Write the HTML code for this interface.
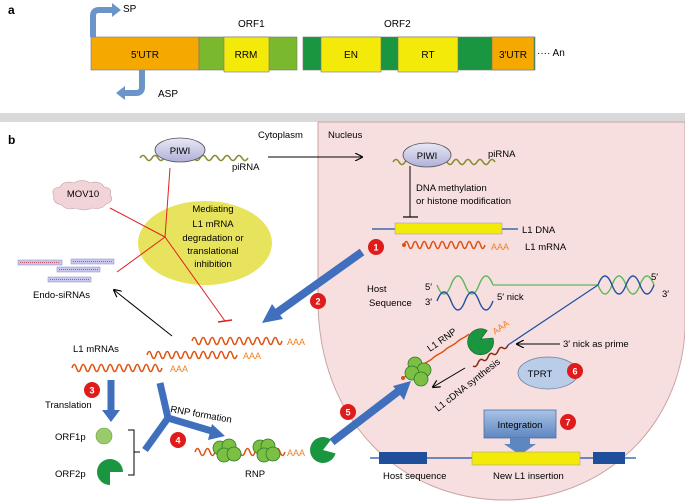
<!DOCTYPE html>
<html><head><meta charset="utf-8"><style>
html,body{margin:0;padding:0;background:#fff}
svg{display:block;font-family:"Liberation Sans",sans-serif}
</style></head><body>
<svg width="685" height="502" viewBox="0 0 685 502" xmlns="http://www.w3.org/2000/svg">
<defs>
<marker id="ah" markerWidth="8" markerHeight="8" refX="7" refY="4" orient="auto" markerUnits="userSpaceOnUse"><path d="M0,0 L8,4 L0,8" fill="none" stroke="#000" stroke-width="1.2"/></marker>
<linearGradient id="piwi" x1="0" y1="0" x2="0" y2="1"><stop offset="0" stop-color="#e8e8f6"/><stop offset="1" stop-color="#b0b0d8"/></linearGradient>
<linearGradient id="integ" x1="0" y1="0" x2="0" y2="1"><stop offset="0" stop-color="#a9c3e6"/><stop offset="1" stop-color="#5e86c0"/></linearGradient>
</defs>
<text x="8" y="14" font-size="12" font-weight="bold">a</text>
<text x="238" y="27" font-size="10">ORF1</text>
<text x="384" y="27" font-size="10">ORF2</text>
<rect x="91" y="37" width="108" height="33" fill="#f5a800" stroke="#777" stroke-width="0.6"/>
<rect x="199" y="37" width="98" height="33" fill="#7ab92d" stroke="#777" stroke-width="0.6"/>
<rect x="224" y="37" width="45" height="35" fill="#f4ea0a" stroke="#777" stroke-width="0.6"/>
<rect x="303" y="37" width="232" height="33" fill="#1a9540" stroke="#777" stroke-width="0.6"/>
<rect x="321" y="37" width="60" height="35" fill="#f4ea0a" stroke="#777" stroke-width="0.6"/>
<rect x="398" y="37" width="60" height="35" fill="#f4ea0a" stroke="#777" stroke-width="0.6"/>
<rect x="492" y="37" width="42" height="33" fill="#f5a800" stroke="#777" stroke-width="0.6"/>
<text x="145" y="58" font-size="10" text-anchor="middle">5′UTR</text>
<text x="246" y="58" font-size="10" text-anchor="middle">RRM</text>
<text x="351" y="58" font-size="10" text-anchor="middle">EN</text>
<text x="428" y="58" font-size="10" text-anchor="middle">RT</text>
<text x="513" y="58" font-size="10" text-anchor="middle">3′UTR</text>
<text x="537" y="56" font-size="10">···· An</text>
<path d="M93,37 L93,16 Q93,10 99,10 L113,10" fill="none" stroke="#6b94c8" stroke-width="6"/>
<path d="M112,3 L121,10 L112,17 Z" fill="#6b94c8"/>
<text x="123" y="12" font-size="10">SP</text>
<path d="M142,70 L142,87 Q142,93 136,93 L124,93" fill="none" stroke="#6b94c8" stroke-width="6"/>
<path d="M125,86 L116,93 L125,100 Z" fill="#6b94c8"/>
<text x="158" y="97" font-size="10">ASP</text>
<rect x="0" y="113" width="685" height="9" fill="#d9d9d9"/>
<path d="M318,122 L685,122 L685,330 C680,430 600,500 505,500 C400,500 318,420 318,300 Z" fill="#f8dfdf" stroke="#c9a5a5" stroke-width="1"/>
<text x="8" y="144" font-size="12" font-weight="bold">b</text>
<text x="258" y="138" font-size="9.5">Cytoplasm</text>
<text x="328" y="138" font-size="9.5">Nucleus</text>
<path d="M140,158 q3,-5 6,0 t6,0 t6,0 t6,0 t6,0 t6,0 t6,0 t6,0 t6,0 t6,0 t6,0 t6,0 t6,0 t6,0 t6,0 t6,0 t6,0 t6,0" fill="none" stroke="#8a8a30" stroke-width="1.6"/>
<ellipse cx="180" cy="150" rx="25" ry="12" fill="url(#piwi)" stroke="#555" stroke-width="0.8"/>
<text x="180" y="154" font-size="9.5" text-anchor="middle">PIWI</text>
<text x="232" y="170" font-size="9.5">piRNA</text>
<line x1="268" y1="157" x2="362" y2="157" stroke="#000" stroke-width="1" marker-end="url(#ah)"/>
<path d="M393,162 q3,-5 6,0 t6,0 t6,0 t6,0 t6,0 t6,0 t6,0 t6,0 t6,0 t6,0 t6,0 t6,0 t6,0 t6,0 t6,0 t6,0 t6,0" fill="none" stroke="#8a8a30" stroke-width="1.6"/>
<ellipse cx="427" cy="155" rx="24" ry="12" fill="url(#piwi)" stroke="#555" stroke-width="0.8"/>
<text x="427" y="159" font-size="9.5" text-anchor="middle">PIWI</text>
<text x="488" y="157" font-size="9.5">piRNA</text>
<line x1="410" y1="166" x2="410" y2="217" stroke="#000" stroke-width="1"/>
<line x1="403" y1="217" x2="418" y2="217" stroke="#000" stroke-width="1.2"/>
<text x="416" y="191" font-size="9.5">DNA methylation</text>
<text x="416" y="204" font-size="9.5">or histone modification</text>
<line x1="372" y1="229" x2="518" y2="229" stroke="#2050a0" stroke-width="1.2"/>
<rect x="395" y="223" width="107" height="11" fill="#f4ea0a" stroke="#999" stroke-width="0.5"/>
<text x="522" y="233" font-size="9.5">L1 DNA</text>
<circle cx="404" cy="245" r="2" fill="#e05010"/>
<path d="M404,245 q2.25,-7 4.5,0 t4.5,0 t4.5,0 t4.5,0 t4.5,0 t4.5,0 t4.5,0 t4.5,0 t4.5,0 t4.5,0 t4.5,0 t4.5,0 t4.5,0 t4.5,0 t4.5,0 t4.5,0 t4.5,0 t4.5,0" fill="none" stroke="#e05010" stroke-width="1.5"/>
<text x="491" y="250" font-size="9" fill="#f08020">AAA</text>
<text x="525" y="250" font-size="9.5">L1 mRNA</text>
<line x1="362" y1="252" x2="275" y2="314" stroke="#3f6fbd" stroke-width="8"/>
<path d="M262,323 L272,304 L283,319 Z" fill="#3f6fbd"/>
<text x="367" y="292" font-size="9.5">Host</text>
<text x="369" y="306" font-size="9.5">Sequence</text>
<text x="425" y="290" font-size="9.5">5′</text>
<text x="425" y="305" font-size="9.5">3′</text>
<path d="M437,285 q7,18 14,0 t14,0 t14,0 t14,0" fill="none" stroke="#5cb85c" stroke-width="1.4"/>
<path d="M437,301 q7,-18 14,0 t14,0 t14,0 t14,0" fill="none" stroke="#2050a0" stroke-width="1.4"/>
<text x="497" y="300" font-size="9.5">5′ nick</text>
<line x1="493" y1="285" x2="598" y2="285" stroke="#5cb85c" stroke-width="1.2"/>
<path d="M598,285 q7,18 14,0 t14,0 t14,0 t14,0" fill="none" stroke="#5cb85c" stroke-width="1.4"/>
<path d="M598,285 q7,-18 14,0 t14,0 t14,0 t14,0" fill="none" stroke="#2050a0" stroke-width="1.4"/>
<text x="651" y="280" font-size="9.5">5′</text>
<text x="662" y="297" font-size="9.5">3′</text>
<line x1="598" y1="285" x2="508" y2="345" stroke="#2050a0" stroke-width="1.2"/>
<path d="M508,345 q-2,5 -5,3 t-5,3 t-5,3 t-5,3 t-5,3 t-5,3 t-5,3" fill="none" stroke="#8a2a10" stroke-width="1.5"/>
<text x="563" y="347" font-size="9.5">3′ nick as prime</text>
<line x1="560" y1="344" x2="517" y2="344" stroke="#000" stroke-width="1" marker-end="url(#ah)"/>
<circle cx="403" cy="378" r="2" fill="#e05010"/>
<path d="M403,378 q4,-2 6,-4 t6,-4 t6,-4 t6,-4 t6,-4 t6,-4 t6,-4 t6,-4 t6,-4 t6,-4 t6,-4" fill="none" stroke="#e05010" stroke-width="1.5"/>
<circle cx="415" cy="364" r="7" fill="#7bc043" stroke="#2d7a2d" stroke-width="0.8"/>
<circle cx="424" cy="370" r="7" fill="#7bc043" stroke="#2d7a2d" stroke-width="0.8"/>
<circle cx="412" cy="373" r="7" fill="#7bc043" stroke="#2d7a2d" stroke-width="0.8"/>
<circle cx="421" cy="379" r="7" fill="#7bc043" stroke="#2d7a2d" stroke-width="0.8"/>
<path d="M481,339 L492,334 A13,13 0 1 1 484,329 Z" fill="#1a9540" stroke="#125a25" stroke-width="0.6" transform="rotate(20 481 339)"/>
<text font-size="9.5" transform="translate(430,352) rotate(-35)">L1 RNP</text>
<text font-size="9" fill="#f08020" transform="translate(495,335) rotate(-35)">AAA</text>
<line x1="465" y1="368" x2="433" y2="387" stroke="#000" stroke-width="1" marker-end="url(#ah)"/>
<text font-size="9.5" transform="translate(438,412) rotate(-38)">L1 cDNA synthesis</text>
<ellipse cx="548" cy="373" rx="30" ry="16" fill="#b9cde8" stroke="#6a7fa0" stroke-width="0.8"/>
<text x="540" y="377" font-size="9.5" text-anchor="middle">TPRT</text>
<rect x="484" y="410" width="72" height="28" fill="url(#integ)" stroke="#4a6fa8" stroke-width="0.8"/>
<path d="M510,438 L530,438 L530,444 L536,444 L520,455 L504,444 L510,444 Z" fill="#5e86c0"/>
<text x="520" y="428" font-size="9.5" text-anchor="middle">Integration</text>
<line x1="370" y1="458" x2="636" y2="458" stroke="#2050a0" stroke-width="1.2"/>
<rect x="379" y="452" width="48" height="12" fill="#1f4e9a"/>
<rect x="593" y="452" width="32" height="12" fill="#1f4e9a"/>
<rect x="472" y="452" width="108" height="13" fill="#f4ea0a" stroke="#999" stroke-width="0.5"/>
<text x="383" y="479" font-size="9.5">Host sequence</text>
<text x="493" y="479" font-size="9.5">New L1 insertion</text>
<line x1="332" y1="442" x2="400" y2="390" stroke="#3f6fbd" stroke-width="8"/>
<path d="M411,381 L404,400 L393,386 Z" fill="#3f6fbd"/>
<path d="M54,196 q-4,-8 6,-9 q4,-7 14,-4 q8,-5 16,0 q10,-3 14,4 q9,1 6,8 q5,6 -4,9 q-4,6 -14,4 q-8,4 -16,0 q-10,3 -14,-3 q-10,-2 -8,-9 Z" fill="#f2d3d8" stroke="#b8a0a4" stroke-width="0.6"/>
<text x="83" y="197" font-size="9.5" text-anchor="middle">MOV10</text>
<ellipse cx="205" cy="243" rx="67" ry="42" fill="#e8e35c"/>
<g font-size="9.5" text-anchor="middle">
<text x="213" y="212">Mediating</text>
<text x="213" y="227">L1 mRNA</text>
<text x="213" y="241">degradation or</text>
<text x="213" y="254">translational</text>
<text x="213" y="267">inhibition</text>
</g>
<g stroke="#e02020" stroke-width="1" fill="none">
<line x1="170" y1="168" x2="165" y2="237"/>
<line x1="165" y1="237" x2="110" y2="208"/>
<line x1="165" y1="237" x2="117" y2="272"/>
<line x1="165" y1="237" x2="225" y2="321"/>
<line x1="218" y1="322" x2="232" y2="320" stroke-width="1.4"/>
</g>
<g fill="#c8c8ee" stroke="#8a88c0" stroke-width="0.5">
<rect x="18" y="260" width="44" height="5"/><rect x="71" y="259" width="43" height="5"/>
<rect x="57" y="267" width="43" height="5"/><rect x="48" y="277" width="43" height="5"/>
</g>
<g stroke="#c03030" stroke-width="0.7" stroke-dasharray="1,1">
<line x1="20" y1="262.5" x2="60" y2="262.5"/><line x1="73" y1="261.5" x2="112" y2="261.5"/>
<line x1="59" y1="269.5" x2="98" y2="269.5"/><line x1="50" y1="279.5" x2="89" y2="279.5"/>
</g>
<text x="33" y="298" font-size="9.5">Endo-siRNAs</text>
<line x1="172" y1="336" x2="114" y2="290" stroke="#000" stroke-width="1" marker-end="url(#ah)"/>
<g fill="none" stroke="#e05010" stroke-width="1.5">
<path d="M192,341 q2.25,-7 4.5,0 t4.5,0 t4.5,0 t4.5,0 t4.5,0 t4.5,0 t4.5,0 t4.5,0 t4.5,0 t4.5,0 t4.5,0 t4.5,0 t4.5,0 t4.5,0 t4.5,0 t4.5,0 t4.5,0 t4.5,0 t4.5,0 t4.5,0"/>
<path d="M147,355 q2.25,-7 4.5,0 t4.5,0 t4.5,0 t4.5,0 t4.5,0 t4.5,0 t4.5,0 t4.5,0 t4.5,0 t4.5,0 t4.5,0 t4.5,0 t4.5,0 t4.5,0 t4.5,0 t4.5,0 t4.5,0 t4.5,0 t4.5,0 t4.5,0"/>
<path d="M72,368 q2.25,-7 4.5,0 t4.5,0 t4.5,0 t4.5,0 t4.5,0 t4.5,0 t4.5,0 t4.5,0 t4.5,0 t4.5,0 t4.5,0 t4.5,0 t4.5,0 t4.5,0 t4.5,0 t4.5,0 t4.5,0 t4.5,0 t4.5,0 t4.5,0"/>
<path d="M195,452 q2.5,-7 5,0 t5,0 t5,0 t5,0 t5,0 t5,0 t5,0 t5,0 t5,0 t5,0 t5,0 t5,0 t5,0 t5,0 t5,0 t5,0 t5,0 t5,0"/>
</g>
<g font-size="9" fill="#f08020">
<text x="287" y="345">AAA</text><text x="243" y="359">AAA</text><text x="170" y="372">AAA</text><text x="287" y="456">AAA</text>
</g>
<text x="73" y="352" font-size="9.5">L1 mRNAs</text>
<line x1="111" y1="380" x2="111" y2="412" stroke="#3f6fbd" stroke-width="7"/>
<path d="M102,410 L120,410 L111,422 Z" fill="#3f6fbd"/>
<text x="45" y="408" font-size="9.5">Translation</text>
<circle cx="104" cy="436" r="8" fill="#9acb6a" stroke="#6a9a3a" stroke-width="0.6"/>
<path d="M110,472 L110,485 A13,13 0 1 1 123,472 Z" fill="#1a9540"/>
<text x="55" y="440" font-size="9.5">ORF1p</text>
<text x="55" y="477" font-size="9.5">ORF2p</text>
<path d="M128,430 L134,430 L134,475 L128,475 M134,452 L140,452" fill="none" stroke="#000" stroke-width="1"/>
<g stroke="#3f6fbd" stroke-width="7" fill="none">
<line x1="145" y1="450" x2="168" y2="418"/>
<line x1="160" y1="383" x2="168" y2="418"/>
<line x1="168" y1="418" x2="215" y2="432"/>
</g>
<path d="M212,424 L225,436 L208,440 Z" fill="#3f6fbd"/>
<text font-size="9.5" transform="translate(170,412) rotate(10)">RNP formation</text>
<g fill="#7bc043" stroke="#2d7a2d" stroke-width="0.8">
<circle cx="220" cy="448" r="7"/><circle cx="229" cy="446" r="7"/><circle cx="224" cy="455" r="7"/><circle cx="234" cy="454" r="7"/>
<circle cx="260" cy="447" r="7"/><circle cx="268" cy="446" r="7"/><circle cx="264" cy="455" r="7"/><circle cx="273" cy="454" r="7"/>
</g>
<path d="M323,450 L336,450 A13,13 0 1 1 328,438 Z" fill="#1a9540" transform="rotate(15 323 450)"/>
<text x="245" y="477" font-size="9.5">RNP</text>
<g font-size="9" fill="#fff" text-anchor="middle" font-weight="bold">
<circle cx="376" cy="247" r="8" fill="#e01b1b"/><text x="376" y="250.5">1</text>
<circle cx="318" cy="301" r="8" fill="#e01b1b"/><text x="318" y="304.5">2</text>
<circle cx="92" cy="390" r="8" fill="#e01b1b"/><text x="92" y="393.5">3</text>
<circle cx="178" cy="440" r="8" fill="#e01b1b"/><text x="178" y="443.5">4</text>
<circle cx="348" cy="412" r="8" fill="#e01b1b"/><text x="348" y="415.5">5</text>
<circle cx="575" cy="371" r="8" fill="#e01b1b"/><text x="575" y="374.5">6</text>
<circle cx="568" cy="422" r="8" fill="#e01b1b"/><text x="568" y="425.5">7</text>
</g>
</svg>
</body></html>
